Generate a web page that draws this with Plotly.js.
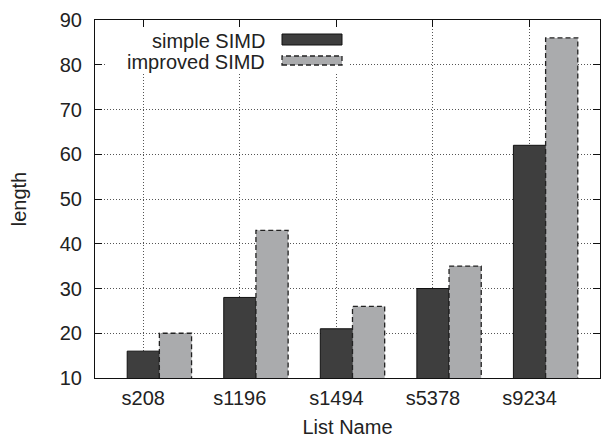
<!DOCTYPE html>
<html>
<head>
<meta charset="utf-8">
<script src="https://cdn.plot.ly/plotly-3.0.1.min.js"></script>
<style>
  html, body { margin: 0; padding: 0; background: #fff; }
  #chart { width: 614px; height: 439px; }
</style>
</head>
<body>
<div id="chart"></div>
<script>
// Benchmark lists and the resulting lengths for the two SIMD variants
const listNames = ['s208', 's1196', 's1494', 's5378', 's9234'];
const simpleSIMD = [16, 28, 21, 30, 62];
const improvedSIMD = [20, 43, 26, 35, 86];
const seriesNames = ['simple SIMD', 'improved SIMD'];

const FONT = 'Liberation Sans, Arial, Helvetica, sans-serif';
const FS = 20;
const BAR_W = 1 / 3;          // width of one bar in cluster units
const Y_BASE = 10;            // bottom of the value axis

// cluster positions: the first bar sits on the tick, the second one right of it
const pos = listNames.map((_, i) => i);
const posImproved = pos.map(p => p + BAR_W);

// dashed outline path for the second series (bar lines cannot be dashed)
const outX = [], outY = [];
posImproved.forEach((p, i) => {
  const x0 = p - BAR_W / 2, x1 = p + BAR_W / 2;
  outX.push(x0, x0, x1, x1, null);
  outY.push(Y_BASE, improvedSIMD[i], improvedSIMD[i], Y_BASE, null);
});

const traces = [
  {
    type: 'bar', name: seriesNames[0], x: pos, y: simpleSIMD, width: BAR_W,
    marker: { color: '#3e3e3e', line: { color: '#111', width: 1 } },
    showlegend: false, hoverinfo: 'skip'
  },
  {
    type: 'bar', name: seriesNames[1], x: posImproved, y: improvedSIMD, width: BAR_W,
    marker: { color: '#aaabad', line: { width: 0 } },
    showlegend: false, hoverinfo: 'skip'
  },
  {
    type: 'scatter', mode: 'lines', x: outX, y: outY,
    line: { color: '#222', width: 1.3, dash: '5px,3px' },
    showlegend: false, hoverinfo: 'skip'
  }
];

// key drawn at the top-left: label on the left, swatch on the right
const px = v => (v - 95) / 505;     // plot-area pixel -> paper x
const py = v => (378 - v) / 358;    // plot-area pixel -> paper y

const shapes = [
  { type: 'rect', xref: 'paper', yref: 'paper', layer: 'above',
    x0: px(105), x1: px(350), y0: py(72), y1: py(28),
    fillcolor: '#fff', line: { width: 0 } },
  { type: 'rect', xref: 'paper', yref: 'paper', layer: 'above',
    x0: px(282), x1: px(342), y0: py(45), y1: py(34),
    fillcolor: '#3e3e3e', line: { color: '#111', width: 1 } },
  { type: 'rect', xref: 'paper', yref: 'paper', layer: 'above',
    x0: px(282), x1: px(342), y0: py(65), y1: py(56),
    fillcolor: '#aaabad', line: { color: '#222', width: 1.3, dash: '5px,3px' } }
];

const annotations = [
  { xref: 'paper', yref: 'paper', x: px(267), y: py(41.5), xanchor: 'right', yanchor: 'middle',
    text: seriesNames[0], showarrow: false, font: { family: FONT, size: FS, color: '#222' } },
  { xref: 'paper', yref: 'paper', x: px(267), y: py(61.5), xanchor: 'right', yanchor: 'middle',
    text: seriesNames[1], showarrow: false, font: { family: FONT, size: FS, color: '#222' } }
];

const gridStyle = { showgrid: true, gridcolor: '#555', gridwidth: 1, griddash: '1px,2px' };

const layout = {
  width: 614, height: 439,
  margin: { l: 95, r: 14, t: 20, b: 61 },
  paper_bgcolor: '#fff', plot_bgcolor: '#fff',
  font: { family: FONT, size: FS, color: '#222' },
  barmode: 'overlay',
  showlegend: false,
  xaxis: Object.assign({
    range: [-0.5, 4.73], tickvals: pos, ticktext: listNames,
    ticks: 'inside', ticklen: 7, tickcolor: '#111', tickwidth: 1,
    showline: true, linecolor: '#111', linewidth: 1, mirror: 'ticks',
    layer: 'below traces', zeroline: false, ticklabelstandoff: 2,
    tickfont: { family: FONT, size: FS, color: '#222' },
    title: { text: 'List Name', font: { family: FONT, size: FS, color: '#222' }, standoff: 11 }
  }, gridStyle),
  yaxis: Object.assign({
    range: [10, 90], dtick: 10, tick0: 10,
    ticks: 'inside', ticklen: 7, tickcolor: '#111', tickwidth: 1,
    showline: true, linecolor: '#111', linewidth: 1, mirror: 'ticks',
    zeroline: false, ticklabelstandoff: 8,
    tickfont: { family: FONT, size: FS, color: '#222' },
    title: { text: 'length', font: { family: FONT, size: FS, color: '#222' }, standoff: 27 }
  }, gridStyle),
  shapes: shapes,
  annotations: annotations
};

Plotly.newPlot('chart', traces, layout, { staticPlot: true, displayModeBar: false });
</script>
</body>
</html>
